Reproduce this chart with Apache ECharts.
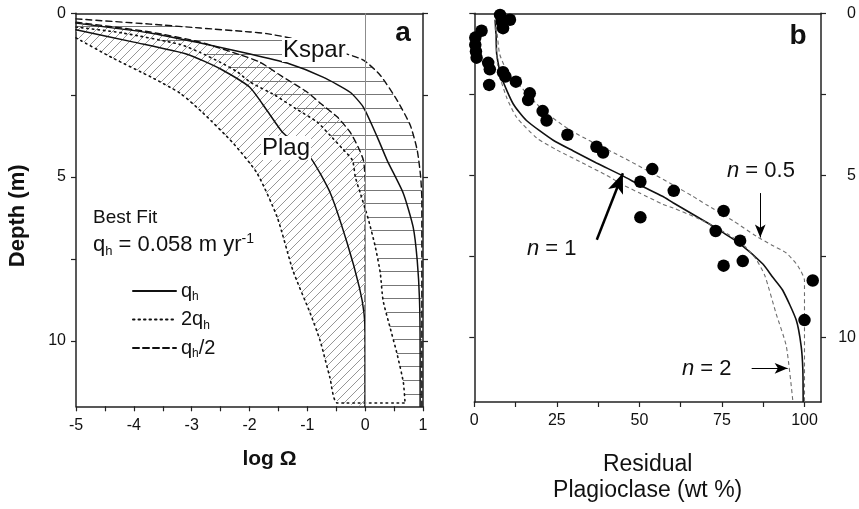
<!DOCTYPE html>
<html><head><meta charset="utf-8">
<script src="https://cdn.jsdelivr.net/npm/echarts@6/dist/echarts.min.js"></script>
<style>html,body{margin:0;padding:0;background:#fff}#c{width:859px;height:509px}</style>
</head><body><div id="c"></div>
<script>
// ---------- Panel a: log Omega vs depth (m) ----------
const plagQh = [[-5,0.5],[-4,0.88],[-3.08,1.25],[-2.5,1.7],[-2,2.25],[-1.7,2.96],[-1.43,3.63],[-0.95,4.4],[-0.6,5.5],[-0.31,7.02],[-0.1,8.37],[-0.02,9.16],[0,10],[0,12]];
const plag2Qh = [[-5,0.75],[-4.36,1.37],[-3.7,1.95],[-3.2,2.44],[-2.8,3.05],[-2.28,3.97],[-1.87,4.88],[-1.52,6.23],[-1.25,7.85],[-0.95,9.16],[-0.78,9.99],[-0.61,11.12],[-0.48,11.9]];
const plagQhHalf = [[-5,0.27],[-3.72,0.57],[-2.85,0.88],[-2.16,1.27],[-1.82,1.49],[-1.47,1.89],[-1.0,2.41],[-0.78,2.74],[-0.48,3.17],[-0.26,3.63],[-0.12,4.09],[-0.03,4.49],[0,5.1],[0,12]];
const ksparQh = [[-5,0.3],[-3.72,0.6],[-2.85,0.91],[-1.99,1.24],[-1.35,1.52],[-0.73,1.95],[-0.26,2.41],[-0.03,2.87],[0.21,3.78],[0.38,4.49],[0.66,5.5],[0.83,6.53],[0.9,7.54],[0.94,8.77],[0.95,10.3],[0.95,12]];
const kspar2Qh = [[-5,0.42],[-4.2,0.6],[-3.2,0.95],[-2.85,1.2],[-2.5,1.5],[-2.2,1.8],[-1.99,2.1],[-1.56,2.5],[-1.21,2.9],[-0.83,3.32],[-0.61,3.72],[-0.4,4.12],[-0.22,4.49],[-0.17,5.0],[-0.09,5.46],[0.05,6.26],[0.17,7.09],[0.26,7.91],[0.31,8.77],[0.43,9.59],[0.55,10.39],[0.66,11.27],[0.69,11.9]];
const ksparQhHalf = [[-5,0.17],[-3.72,0.33],[-2.85,0.45],[-1.99,0.57],[-1.7,0.62],[-1.12,0.82],[-0.43,1.18],[-0.03,1.43],[0.26,1.89],[0.55,2.65],[0.78,3.42],[0.9,4.18],[0.96,5.0],[0.98,5.71],[0.98,12]];

// ---------- Panel b: residual plagioclase (wt %) vs depth ----------
const plagResidual = [[7.8,0.05],[8.3,0.26],[10.8,0.2],[8.7,0.46],[2.2,0.54],[0.3,0.75],[0.3,0.97],[0.5,1.18],[0.7,1.37],[4.2,1.53],[4.7,1.73],[8.7,1.82],[9.4,1.95],[12.6,2.11],[4.5,2.21],[16.8,2.47],[16.3,2.68],[20.7,3.02],[21.9,3.31],[28.2,3.75],[37.0,4.12],[39.0,4.30],[53.9,4.81],[50.3,5.2],[60.4,5.48],[75.5,6.1],[50.3,6.3],[73.1,6.72],[80.5,7.02],[81.3,7.65],[75.5,7.79],[102.5,8.25],[100.0,9.47]];
const curveN1 = [[6.3,0.2],[6.6,0.7],[6.8,1.27],[8.3,1.99],[11.8,2.8],[15.8,3.31],[23.9,3.92],[30,4.25],[37,4.62],[45,5.02],[50.1,5.3],[57,5.65],[60.2,5.85],[70.3,6.45],[75,6.75],[80.3,7.1],[87.4,7.74],[90.4,8.15],[93.4,8.55],[97.5,9.47],[99,10.28],[99.5,11],[99.6,12]];
const curveN05 = [[6.5,0.2],[7.1,0.8],[7.7,1.27],[10,1.8],[13.8,2.24],[20.9,3.0],[28.9,3.6],[37,4.04],[45,4.45],[53,4.89],[60.2,5.3],[66.2,5.65],[70.3,5.91],[78.3,6.4],[85.4,6.88],[90,7.15],[94.5,7.4],[98,7.8],[100,8.25],[100,12]];
const curveN2 = [[6.3,0.2],[6.5,0.8],[7.3,1.78],[9.8,2.6],[12.8,3.21],[18.9,3.85],[25,4.22],[32,4.58],[40,5.0],[45.1,5.3],[50.1,5.55],[57.2,5.9],[60.2,6.01],[67.3,6.31],[72,6.55],[77.3,6.85],[82,7.2],[85.4,7.6],[88,8.1],[91.4,9.27],[94.5,10.28],[96.5,12]];

// arrows (tail, head) in panel b data units
const arrowN1 = [[37.1,6.99],[45.0,4.94]];
const arrowN05 = [[86.6,5.55],[86.6,6.92]];
const arrowN2 = [[84.0,10.96],[94.9,10.96]];

// ---------- ticks ----------
const logTickValues = [-5,-4.5,-4,-3.5,-3,-2.5,-2,-1.5,-1,-0.5,0,0.5,1];
const logLabelValues = [-5,-4,-3,-2,-1,0,1];
const depthTickValues = [0,2.5,5,7.5,10];
const depthLabelValues = [0,5,10];
const pctTickValues = [0,12.5,25,37.5,50,62.5,75,87.5,100];
const pctLabelValues = [0,25,50,75,100];

const FONT = 'Liberation Sans, Arial, Helvetica, sans-serif';
const AX = '#222';

function diagPattern() {
  const c = document.createElement('canvas'); c.width = 9; c.height = 9;
  const g = c.getContext('2d'); g.strokeStyle = '#8a8a8a'; g.lineWidth = 0.9;
  [-9, 0, 9].forEach(o => { g.beginPath(); g.moveTo(o, 9); g.lineTo(o + 9, 0); g.stroke(); });
  return c;
}
function horizPattern() {
  const c = document.createElement('canvas'); c.width = 4; c.height = 68;
  const g = c.getContext('2d'); g.fillStyle = '#777';
  [13, 26, 40, 54, 67].forEach(y => g.fillRect(0, y, 4, 1));
  return c;
}
const diagFill = { image: diagPattern(), repeat: 'repeat' };
const horizFill = { image: horizPattern(), repeat: 'repeat' };

const plagRegion = plag2Qh.concat(plagQhHalf.slice().reverse());
const ksparRegion = kspar2Qh.concat(ksparQhHalf.slice().reverse());

function hatchSeries(region, fill, name) {
  return {
    type: 'custom', name: name, xAxisIndex: 0, yAxisIndex: 0, z: 1, silent: true, clip: true,
    data: [region[0]],
    renderItem: function (params, api) {
      return { type: 'polygon', shape: { points: region.map(p => api.coord(p)) }, style: { fill: fill, stroke: null } };
    }
  };
}

const axisLineStyle = { show: true, onZero: false, lineStyle: { color: AX, width: 1.5 } };
const tickLabel = { fontSize: 16, color: '#111', fontFamily: FONT };

function lineA(name, data, type, width) {
  return { type: 'line', name: name, xAxisIndex: 0, yAxisIndex: 0, data: data, symbol: 'none', showSymbol: false, smooth: 0.2, z: 3,
    lineStyle: { color: '#111', width: width, type: type, cap: 'round' }, itemStyle: { color: '#111' } };
}

const chart = echarts.init(document.getElementById('c'), null, { renderer: 'canvas' });
const ksparSolid = lineA('qh', ksparQh, 'solid', 1.5);
ksparSolid.markLine = { silent: true, symbol: ['none', 'none'], label: { show: false }, animation: false,
  lineStyle: { color: '#8c8c8c', width: 1, type: 'solid' }, data: [{ xAxis: logLabelValues[5] }] };

const option = {
  animation: false,
  backgroundColor: '#fff',
  grid: [
    { left: 76, top: 13.3, width: 347, height: 393 },
    { left: 474.3, top: 13.3, width: 348, height: 393 }
  ],
  xAxis: [
    { type: 'value', gridIndex: 0, position: 'bottom', min: -5, max: 1, interval: 1,
      axisLine: axisLineStyle, splitLine: { show: false },
      axisTick: { show: true, inside: false, length: 5, customValues: logTickValues, lineStyle: { color: AX, width: 1.2 } },
      axisLabel: Object.assign({ margin: 11, customValues: logLabelValues }, tickLabel),
      name: 'log Ω', nameLocation: 'middle', nameGap: 42,
      nameTextStyle: { fontSize: 21, fontWeight: 'bold', color: '#111', fontFamily: FONT, padding: [0, 0, 0, 40] } },
    { type: 'value', gridIndex: 0, position: 'top', min: -5, max: 1,
      axisLine: axisLineStyle, axisTick: { show: false }, axisLabel: { show: false }, splitLine: { show: false } },
    { type: 'value', gridIndex: 1, position: 'bottom', min: 0, max: 105, interval: 25,
      axisLine: axisLineStyle, splitLine: { show: false },
      axisTick: { show: true, inside: false, length: 5, customValues: pctTickValues, lineStyle: { color: AX, width: 1.2 } },
      axisLabel: Object.assign({ margin: 11, customValues: pctLabelValues }, tickLabel),
      name: 'Residual\nPlagioclase (wt %)', nameLocation: 'middle', nameGap: 50,
      nameTextStyle: { fontSize: 23, lineHeight: 26, color: '#111', fontFamily: FONT } },
    { type: 'value', gridIndex: 1, position: 'top', min: 0, max: 105,
      axisLine: axisLineStyle, axisTick: { show: false }, axisLabel: { show: false }, splitLine: { show: false } }
  ],
  yAxis: [
    { type: 'value', gridIndex: 0, position: 'left', min: 0, max: 12, inverse: true,
      axisLine: axisLineStyle, splitLine: { show: false },
      axisTick: { show: true, inside: false, length: 5, customValues: depthTickValues, lineStyle: { color: AX, width: 1.2 } },
      axisLabel: Object.assign({ margin: 10, customValues: depthLabelValues }, tickLabel),
      name: 'Depth (m)', nameLocation: 'middle', nameGap: 47,
      nameTextStyle: { fontSize: 22, fontWeight: 'bold', color: '#111', fontFamily: FONT, padding: [0, 12, 0, 0] } },
    { type: 'value', gridIndex: 0, position: 'right', min: 0, max: 12, inverse: true,
      axisLine: axisLineStyle, splitLine: { show: false },
      axisTick: { show: true, inside: false, length: 5, customValues: depthTickValues, lineStyle: { color: AX, width: 1.2 } },
      axisLabel: { show: false } },
    { type: 'value', gridIndex: 1, position: 'left', min: 0, max: 12, inverse: true,
      axisLine: axisLineStyle, splitLine: { show: false },
      axisTick: { show: true, inside: false, length: 5, customValues: depthTickValues, lineStyle: { color: AX, width: 1.2 } },
      axisLabel: { show: false } },
    { type: 'value', gridIndex: 1, position: 'right', min: 0, max: 12, inverse: true,
      axisLine: axisLineStyle, splitLine: { show: false },
      axisTick: { show: true, inside: false, length: 5, customValues: depthTickValues, lineStyle: { color: AX, width: 1.2 } },
      axisLabel: Object.assign({ margin: 35, align: 'right', customValues: depthLabelValues }, tickLabel) }
  ],
  legend: {
    orient: 'vertical', left: 127, top: 276, itemWidth: 43, itemHeight: 14, itemGap: 6.5,
    selectedMode: false, data: ['qh', '2qh', 'qh/2'],
    itemStyle: { opacity: 0, borderWidth: 0 },
    formatter: function (n) { return n === 'qh' ? '{t|q}{s|h}' : (n === '2qh' ? '{t|2q}{s|h}' : '{t|q}{s|h}{t|/2}'); },
    textStyle: { fontSize: 20, color: '#111', fontFamily: FONT,
      rich: { t: { fontSize: 20, lineHeight: 24, fontFamily: FONT, color: '#111' },
              s: { fontSize: 12, lineHeight: 12, verticalAlign: 'bottom', fontFamily: FONT, color: '#111' } } }
  },
  series: [
    hatchSeries(plagRegion, diagFill, 'Plag range'),
    hatchSeries(ksparRegion, horizFill, 'Kspar range'),
    lineA('qh', plagQh, 'solid', 1.5),
    lineA('2qh', plag2Qh.concat([kspar2Qh[kspar2Qh.length - 1]]), [1.5, 4], 1.6),
    lineA('qh/2', plagQhHalf, [6, 4], 1.4),
    ksparSolid,
    lineA('2qh', kspar2Qh, [1.5, 4], 1.6),
    lineA('qh/2', ksparQhHalf, [6, 4], 1.4),
    { type: 'scatter', name: 'Residual plagioclase', xAxisIndex: 2, yAxisIndex: 2, data: plagResidual,
      symbol: 'circle', symbolSize: 12.5, itemStyle: { color: '#000', opacity: 1 }, z: 5 },
    { type: 'line', name: 'n = 1', xAxisIndex: 2, yAxisIndex: 2, data: curveN1, symbol: 'none', smooth: 0.2, z: 3,
      lineStyle: { color: '#111', width: 1.6 },
      markLine: { silent: true, animation: false, label: { show: false }, symbol: ['none', 'arrow'], symbolSize: [12, 20],
        lineStyle: { color: '#000', width: 2.5, type: 'solid' },
        data: [[{ coord: arrowN1[0] }, { coord: arrowN1[1] }]] } },
    { type: 'line', name: 'n = 0.5', xAxisIndex: 2, yAxisIndex: 2, data: curveN05, symbol: 'none', smooth: 0.2, z: 3,
      lineStyle: { color: '#6e6e6e', width: 1.1, type: [4, 3] },
      markLine: { silent: true, animation: false, label: { show: false }, symbol: ['none', 'arrow'], symbolSize: [8, 13],
        lineStyle: { color: '#000', width: 1, type: 'solid' },
        data: [[{ coord: arrowN05[0] }, { coord: arrowN05[1] }]] } },
    { type: 'line', name: 'n = 2', xAxisIndex: 2, yAxisIndex: 2, data: curveN2, symbol: 'none', smooth: 0.2, z: 3,
      lineStyle: { color: '#6e6e6e', width: 1.1, type: [4, 3] },
      markLine: { silent: true, animation: false, label: { show: false }, symbol: ['none', 'arrow'], symbolSize: [8, 13],
        lineStyle: { color: '#000', width: 1, type: 'solid' },
        data: [[{ coord: arrowN2[0] }, { coord: arrowN2[1] }]] } }
  ],
  graphic: [
    { type: 'text', z: 100, x: 403, y: 33, style: { text: 'a', font: 'bold 28px ' + FONT, fill: '#111', align: 'center', verticalAlign: 'middle' } },
    { type: 'text', z: 100, x: 798, y: 36, style: { text: 'b', font: 'bold 28px ' + FONT, fill: '#111', align: 'center', verticalAlign: 'middle' } },
    { type: 'text', z: 100, x: 282, y: 50, style: { text: 'Kspar', font: '24px ' + FONT, fill: '#111', align: 'left', verticalAlign: 'middle', backgroundColor: '#fff', padding: [0, 1] } },
    { type: 'text', z: 100, x: 261, y: 148, style: { text: 'Plag', font: '24px ' + FONT, fill: '#111', align: 'left', verticalAlign: 'middle', backgroundColor: '#fff', padding: [0, 1] } },
    { type: 'text', z: 100, x: 93, y: 218, style: { text: 'Best Fit', font: '19px ' + FONT, fill: '#111', align: 'left', verticalAlign: 'middle' } },
    { type: 'text', z: 100, x: 93, y: 245, style: { text: '{t|q}{s|h}{t| = 0.058 m yr}{p|-1}', fill: '#111', align: 'left', verticalAlign: 'middle',
        rich: { t: { fontSize: 22, lineHeight: 26, fontFamily: FONT, fill: '#111' },
                s: { fontSize: 13, lineHeight: 13, verticalAlign: 'bottom', fontFamily: FONT, fill: '#111' },
                p: { fontSize: 14, lineHeight: 13, verticalAlign: 'top', fontFamily: FONT, fill: '#111' } } } },
    { type: 'text', z: 100, x: 727, y: 171, style: { text: '{i|n}{t| = 0.5}', align: 'left', verticalAlign: 'middle',
        rich: { i: { fontSize: 22, fontStyle: 'italic', fontFamily: FONT, fill: '#111' }, t: { fontSize: 22, fontFamily: FONT, fill: '#111' } } } },
    { type: 'text', z: 100, x: 527, y: 249, style: { text: '{i|n}{t| = 1}', align: 'left', verticalAlign: 'middle',
        rich: { i: { fontSize: 22, fontStyle: 'italic', fontFamily: FONT, fill: '#111' }, t: { fontSize: 22, fontFamily: FONT, fill: '#111' } } } },
    { type: 'text', z: 100, x: 682, y: 369, style: { text: '{i|n}{t| = 2}', align: 'left', verticalAlign: 'middle',
        rich: { i: { fontSize: 22, fontStyle: 'italic', fontFamily: FONT, fill: '#111' }, t: { fontSize: 22, fontFamily: FONT, fill: '#111' } } } }
  ]
};
chart.setOption(option);
</script></body></html>
